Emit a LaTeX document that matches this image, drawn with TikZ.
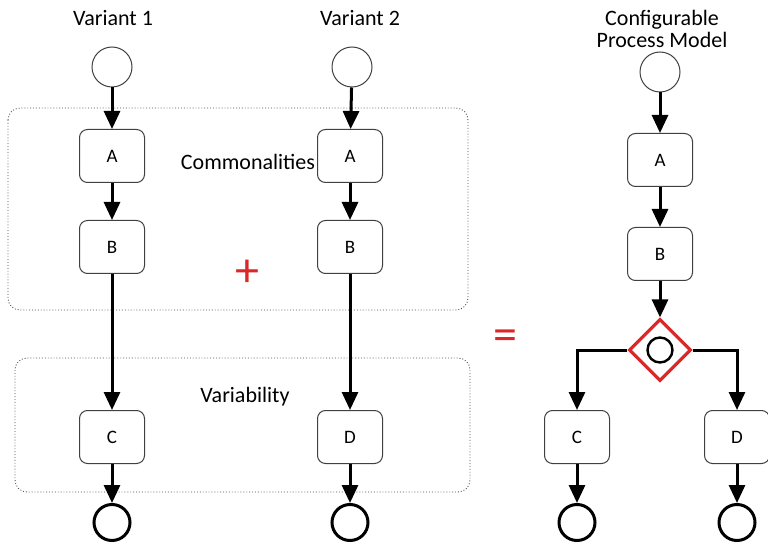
\documentclass[tikz,border=0pt]{standalone}
\usepackage{fontspec}
\setmainfont{Carlito}
\usetikzlibrary{positioning,arrows.meta,shapes.geometric}
\definecolor{cfgred}{RGB}{218,40,40}

\begin{document}
\begin{tikzpicture}[x=1pt, y=-1pt,
  task/.style={draw=black!75, rectangle, rounded corners=8pt, minimum width=65pt, minimum height=53pt, line width=1pt, font=\fontsize{19}{21}\selectfont},
  start/.style={draw=black!75, circle, minimum size=40pt, line width=1pt},
  stop/.style={draw, circle, minimum size=36pt, line width=3pt},
  gateway/.style={draw=cfgred, diamond, minimum size=62pt, line width=3.2pt},
  flow/.style={line width=3pt, -{Triangle[length=18pt, width=16pt]}},
  region/.style={draw=black!70, dotted, rounded corners=12pt, line width=0.9pt},
  title/.style={font=\fontsize{22}{25}\selectfont, align=center},
  sign/.style={text=cfgred, font=\fontsize{48}{48}\selectfont},
  node distance=37pt,
]
\useasboundingbox (0,0) rectangle (768,545);

% regions
\draw[region] (8,108) rectangle (468,310);
\draw[region] (15,358) rectangle (470,492);
\node[title] (common) at (248,162) {Commonalities};
\node[title] (vary) at (245,397) {Variability};

% variant 1
\node[title] (t1) at (113,18) {Variant 1};
\node[start] (s1) at (112,67) {};
\node[task] (a1) at (112,156) {A};
\node[task] (b1) [below=of a1] {B};
\node[task] (c1) at (112,437) {C};
\node[stop] (e1) [below=39pt of c1] {};

% variant 2
\node[title] (t2) at (360,18) {Variant 2};
\node[start] (s2) at (352,67) {};
\node[task] (a2) at (350,156) {A};
\node[task] (b2) [below=of a2] {B};
\node[task] (d2) at (350,437) {D};
\node[stop] (e2) [below=39pt of d2] {};

% configurable model
\node[title] (t3) at (662,29) {Configurable\\[-3pt]Process Model};
\node[start] (s3) at (660,72) {};
\node[task] (a3) at (660,160) {A};
\node[task] (b3) [below=40pt of a3] {B};
\node[gateway] (g) at (660,350) {};
\node[draw, circle, minimum size=25pt, line width=2.4pt] (gc) at (g) {};
\node[task] (c3) at (577,437) {C};
\node[task] (d3) at (737,437) {D};
\node[stop] (e3) [below=39pt of c3] {};
\node[stop] (e4) [below=39pt of d3] {};

\node[sign] (plus) at (247,273) {+};
\node[sign] (equal) at (505,340) {=};

\draw[flow] (s1) -- (a1);
\draw[flow] (a1) -- (b1);
\draw[flow] (b1) -- (c1);
\draw[flow] (c1) -- (e1);

\draw[flow] (s2) -- (a2);
\draw[flow] (a2) -- (b2);
\draw[flow] (b2) -- (d2);
\draw[flow] (d2) -- (e2);

\draw[flow] (s3) -- (a3);
\draw[flow] (a3) -- (b3);
\draw[flow] (b3) -- (g);
\draw[flow] (g.west) -| (c3);
\draw[flow] (g.east) -| (d3);
\draw[flow] (c3) -- (e3);
\draw[flow] (d3) -- (e4);

\end{tikzpicture}
\end{document}
